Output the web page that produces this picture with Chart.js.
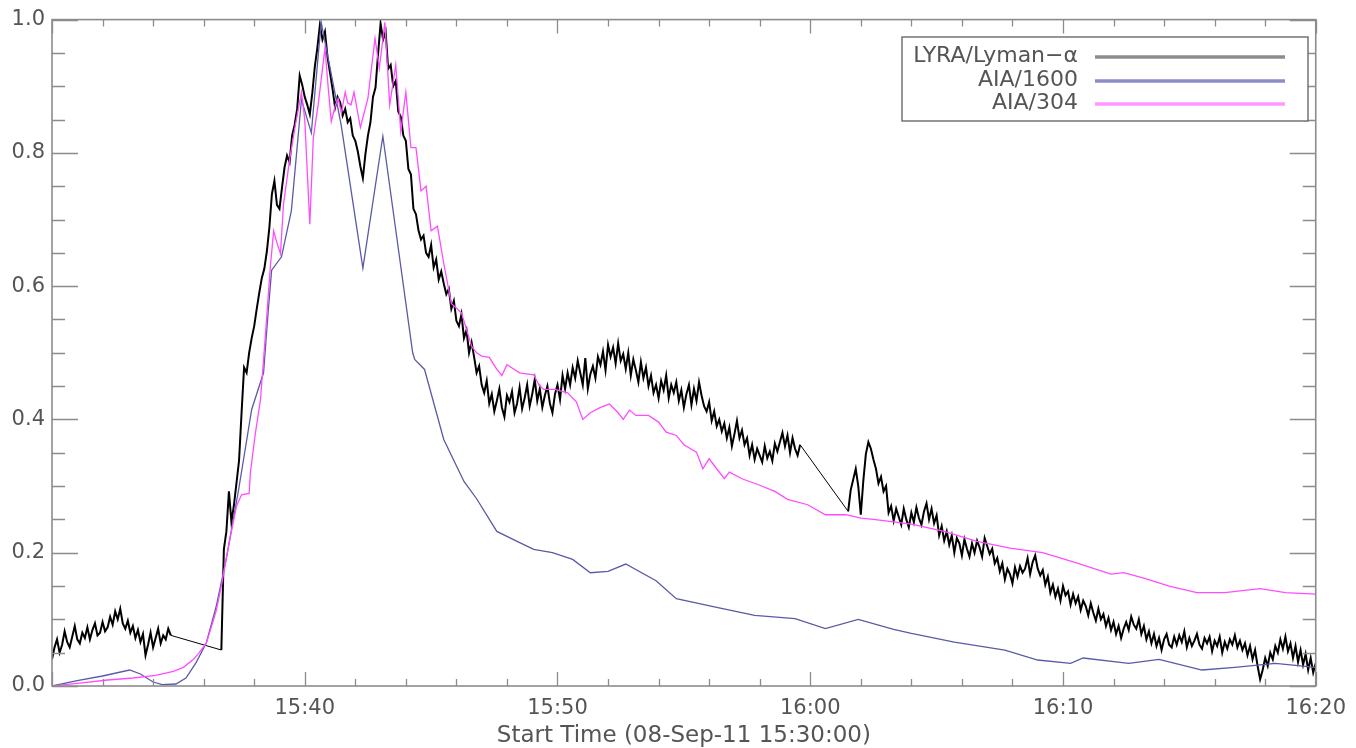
<!DOCTYPE html>
<html><head><meta charset="utf-8">
<script src="https://cdn.jsdelivr.net/npm/chart.js@4"></script>
<style>html,body{margin:0;padding:0;background:#fff;overflow:hidden}canvas{display:block}</style>
</head><body>
<canvas id="c" width="1356" height="748"></canvas>
<script>
// ---- DATA (minutes after 15:30:00 UT, 08-Sep-2011) ----
const xTickMinutes = [10, 20, 30, 40, 50];
const xTickLabels = ['15:40', '15:50', '16:00', '16:10', '16:20'];
const yTickValues = [0, 0.2, 0.4, 0.6, 0.8, 1.0];
const yTickLabels = ['0.0', '0.2', '0.4', '0.6', '0.8', '1.0'];
const seriesNames = ['LYRA/Lyman\u2212\u03b1', 'AIA/1600', 'AIA/304'];
const xAxisTitle = 'Start Time (08-Sep-11 15:30:00)';

// LYRA Lyman-alpha: three data segments at 6 s cadence
const lyraCadence = 0.1;
const lyraSeg1Start = 0.0;
const lyraSeg1 = [0.040,0.058,0.070,0.050,0.062,0.082,0.066,0.058,0.074,0.090,
  0.070,0.064,0.080,0.072,0.088,0.070,0.084,0.094,0.076,0.080,
  0.096,0.082,0.088,0.104,0.092,0.112,0.100,0.116,0.094,0.086,
  0.098,0.080,0.090,0.072,0.084,0.066,0.078,0.046,0.062,0.080,
  0.058,0.072,0.086,0.064,0.076,0.070,0.086,0.076];
const lyraSeg2Start = 6.7;
const lyraSeg2 = [0.054,0.205,0.232,0.292,0.246,0.272,0.305,0.338,0.410,0.478,
  0.470,0.500,0.522,0.540,0.566,0.590,0.612,0.626,0.652,0.688,
  0.738,0.758,0.722,0.716,0.748,0.778,0.796,0.786,0.826,0.842,
  0.866,0.916,0.902,0.884,0.872,0.858,0.890,0.930,0.958,0.992,
  0.970,0.982,0.944,0.920,0.896,0.868,0.884,0.876,0.856,0.866,
  0.846,0.852,0.826,0.818,0.802,0.780,0.762,0.798,0.826,0.846,
  0.884,0.898,0.948,0.994,0.970,0.982,0.926,0.932,0.900,0.908,
  0.862,0.854,0.826,0.818,0.776,0.768,0.716,0.708,0.684,0.670,
  0.676,0.650,0.644,0.662,0.628,0.640,0.610,0.622,0.604,0.588,
  0.596,0.566,0.578,0.548,0.540,0.558,0.522,0.534,0.500,0.516,
  0.494,0.470,0.480,0.452,0.440,0.458,0.424,0.438,0.412,0.428,
  0.446,0.418,0.404,0.436,0.426,0.442,0.410,0.424,0.448,0.416,
  0.432,0.452,0.420,0.438,0.460,0.428,0.446,0.418,0.436,0.450,
  0.424,0.410,0.438,0.452,0.430,0.466,0.446,0.470,0.452,0.478,
  0.462,0.488,0.470,0.452,0.492,0.446,0.468,0.480,0.462,0.494,
  0.482,0.502,0.474,0.512,0.494,0.508,0.484,0.514,0.488,0.498,
  0.476,0.500,0.466,0.490,0.474,0.456,0.486,0.462,0.478,0.450,
  0.466,0.440,0.452,0.432,0.458,0.444,0.466,0.432,0.452,0.440,
  0.456,0.428,0.444,0.418,0.438,0.452,0.422,0.446,0.428,0.456,
  0.436,0.420,0.412,0.426,0.398,0.412,0.390,0.400,0.382,0.394,
  0.372,0.388,0.360,0.378,0.398,0.372,0.384,0.362,0.372,0.346,
  0.362,0.340,0.356,0.346,0.336,0.360,0.342,0.352,0.338,0.364,
  0.352,0.366,0.380,0.360,0.376,0.350,0.372,0.356,0.346,0.362];
const lyraSeg3Start = 31.5;
const lyraSeg3 = [0.262,0.294,0.310,0.326,0.300,0.257,0.308,0.348,0.366,0.356,
  0.340,0.326,0.304,0.314,0.292,0.300,0.260,0.270,0.248,0.266,
  0.254,0.242,0.266,0.250,0.238,0.260,0.246,0.268,0.252,0.242,
  0.262,0.274,0.250,0.266,0.244,0.256,0.226,0.240,0.218,0.232,
  0.212,0.226,0.200,0.222,0.214,0.196,0.220,0.206,0.194,0.214,
  0.200,0.218,0.208,0.194,0.222,0.210,0.198,0.206,0.184,0.192,
  0.172,0.184,0.160,0.176,0.168,0.154,0.178,0.164,0.180,0.170,
  0.176,0.192,0.168,0.186,0.196,0.176,0.166,0.174,0.152,0.164,
  0.140,0.152,0.134,0.146,0.128,0.150,0.136,0.142,0.122,0.138,
  0.124,0.134,0.114,0.128,0.120,0.106,0.124,0.110,0.098,0.116,
  0.100,0.108,0.090,0.102,0.084,0.096,0.078,0.090,0.072,0.086,
  0.096,0.084,0.104,0.092,0.086,0.100,0.078,0.090,0.070,0.082,
  0.064,0.078,0.060,0.072,0.054,0.070,0.078,0.062,0.058,0.074,
  0.062,0.076,0.066,0.082,0.058,0.072,0.060,0.068,0.078,0.062,
  0.056,0.072,0.064,0.074,0.052,0.068,0.060,0.074,0.050,0.066,
  0.056,0.070,0.062,0.076,0.058,0.068,0.054,0.064,0.046,0.060,
  0.040,0.054,0.030,0.010,0.024,0.042,0.030,0.050,0.040,0.060,
  0.050,0.070,0.056,0.074,0.052,0.064,0.042,0.060,0.036,0.054,
  0.032,0.048,0.024,0.042,0.020,0.034];

// AIA 1600
const aia1600Time = [0,1.0,2.0,3.07,3.5,4.0,4.36,4.9,5.3,5.7,6.1,6.5,6.88,7.39,7.9,8.37,8.55,8.69,9.08,9.47,9.87,10.26,10.65,11.44,12.3,13.09,14.27,14.35,14.74,15.5,16.3,16.8,17.6,18.4,19.06,19.8,20.6,21.3,22.0,22.7,23.9,24.7,26.3,27.8,29.4,30.6,31.9,33.3,34.0,35.7,37.7,39.0,40.3,40.8,42.6,43.8,45.5,46.8,48.4,50.0];
const aia1600Value = [0.0,0.008,0.015,0.024,0.018,0.006,0.002,0.003,0.012,0.035,0.064,0.120,0.188,0.296,0.415,0.470,0.560,0.624,0.644,0.713,0.880,0.830,0.996,0.842,0.627,0.825,0.500,0.490,0.475,0.370,0.307,0.281,0.232,0.217,0.205,0.200,0.190,0.170,0.172,0.183,0.158,0.131,0.118,0.106,0.101,0.086,0.100,0.085,0.079,0.066,0.054,0.039,0.034,0.042,0.034,0.040,0.024,0.028,0.034,0.028];

// AIA 304
const aia304Time = [0,1.0,2.2,3.2,4.1,4.8,5.2,5.6,5.8,6.1,6.3,6.5,6.7,6.88,7.1,7.3,7.5,7.8,7.85,8.05,8.25,8.45,8.64,8.77,8.9,9.04,9.16,9.4,9.63,9.87,10.0,10.2,10.34,10.53,10.8,10.93,11.05,11.2,11.32,11.45,11.6,11.7,11.83,11.95,12.2,12.5,12.78,12.95,13.17,13.36,13.6,13.8,14.0,14.2,14.4,14.6,14.8,15.0,15.25,15.5,15.8,16.2,16.6,16.8,17.0,17.3,17.6,17.8,18.0,18.5,19.06,19.26,19.45,19.9,20.4,20.75,21.0,21.3,21.7,22.05,22.4,22.6,22.85,23.1,23.6,24.0,24.3,24.7,25.0,25.5,25.75,26.0,26.3,26.6,26.8,27.3,27.95,28.6,29.1,29.9,30.6,31.4,32.0,32.5,34.0,35.3,36.6,37.9,39.2,40.5,41.9,42.4,43.2,44.2,45.3,46.4,47.8,48.8,50.0];
const aia304Value = [0.0,0.004,0.009,0.012,0.016,0.022,0.028,0.040,0.049,0.064,0.088,0.113,0.150,0.188,0.232,0.270,0.287,0.289,0.321,0.380,0.430,0.530,0.630,0.683,0.665,0.649,0.723,0.790,0.842,0.891,0.850,0.693,0.823,0.872,0.957,0.897,0.847,0.870,0.882,0.860,0.891,0.875,0.872,0.891,0.838,0.882,0.972,0.927,0.996,0.872,0.932,0.832,0.891,0.808,0.808,0.743,0.750,0.683,0.690,0.634,0.574,0.560,0.510,0.500,0.495,0.493,0.475,0.466,0.482,0.470,0.467,0.452,0.445,0.445,0.440,0.426,0.400,0.410,0.418,0.423,0.410,0.400,0.414,0.406,0.406,0.396,0.381,0.376,0.362,0.351,0.326,0.341,0.326,0.311,0.321,0.311,0.302,0.292,0.280,0.272,0.257,0.257,0.252,0.250,0.243,0.232,0.217,0.207,0.200,0.185,0.168,0.170,0.162,0.150,0.140,0.140,0.146,0.140,0.138];

// ---- build datasets ----
function segPoints(start, vals) { return vals.map((v, i) => ({ x: +(start + i * lyraCadence).toFixed(2), y: v })); }
const lyraPoints = [].concat(segPoints(lyraSeg1Start, lyraSeg1), segPoints(lyraSeg2Start, lyraSeg2), segPoints(lyraSeg3Start, lyraSeg3));
const aia1600Points = aia1600Time.map((t, i) => ({ x: t, y: aia1600Value[i] }));
const aia304Points = aia304Time.map((t, i) => ({ x: t, y: aia304Value[i] }));

const FONT = 'DejaVu Sans';
const TXT = '#555555';
const AXIS = '#8c8c8c';
const lineColors = ['#000000', '#5a5aa8', '#ff4cff'];
const legendColors = ['#8c8c8c', '#8c8cc8', '#ff99ff'];

const framePlugin = {
  id: 'frame',
  afterDatasetsDraw(chart) {
    const { ctx, chartArea: a, scales: { x, y } } = chart;
    ctx.save();
    ctx.strokeStyle = AXIS;
    ctx.lineWidth = 1.6;
    ctx.strokeRect(a.left, a.top, a.right - a.left, a.bottom - a.top);
    ctx.lineWidth = 1.3;
    ctx.beginPath();
    for (let m = 0; m <= 50; m += 2) {
      const px = Math.round(x.getPixelForValue(m)) + 0.5;
      const L = m % 10 === 0 ? 14 : 7;
      ctx.moveTo(px, a.bottom); ctx.lineTo(px, a.bottom - L);
      ctx.moveTo(px, a.top); ctx.lineTo(px, a.top + L);
    }
    for (let k = 0; k <= 20; k++) {
      const py = Math.round(y.getPixelForValue(k * 0.05)) + 0.5;
      const L = k % 4 === 0 ? 26 : 13;
      ctx.moveTo(a.left, py); ctx.lineTo(a.left + L, py);
      ctx.moveTo(a.right, py); ctx.lineTo(a.right - L, py);
    }
    ctx.stroke();
    ctx.restore();
  }
};

const legendPlugin = {
  id: 'boxLegend',
  afterDraw(chart) {
    const ctx = chart.ctx;
    ctx.save();
    ctx.fillStyle = '#ffffff';
    ctx.fillRect(902, 37, 406, 84);
    ctx.strokeStyle = '#6a6a6a';
    ctx.lineWidth = 1.4;
    ctx.strokeRect(902, 37, 406, 84);
    ctx.font = '22px "' + FONT + '"';
    ctx.textAlign = 'right';
    ctx.textBaseline = 'middle';
    const rows = [56, 80, 103];
    seriesNames.forEach((n, i) => {
      ctx.fillStyle = TXT;
      ctx.fillText(n, 1078, rows[i]);
      ctx.strokeStyle = legendColors[i];
      ctx.lineWidth = 3.5;
      ctx.beginPath(); ctx.moveTo(1095, rows[i] + 1); ctx.lineTo(1285, rows[i] + 1); ctx.stroke();
    });
    ctx.restore();
  }
};

new Chart(document.getElementById('c'), {
  type: 'line',
  data: {
    datasets: [
      { label: seriesNames[0], data: lyraPoints, borderColor: lineColors[0], borderWidth: 2, pointRadius: 0, tension: 0, order: 3,
        segment: { borderWidth: c => (c.p1.parsed.x - c.p0.parsed.x > 0.5 ? 1 : 2) } },
      { label: seriesNames[1], data: aia1600Points, borderColor: lineColors[1], borderWidth: 1.3, pointRadius: 0, tension: 0, order: 2 },
      { label: seriesNames[2], data: aia304Points, borderColor: lineColors[2], borderWidth: 1.3, pointRadius: 0, tension: 0, order: 1 }
    ]
  },
  options: {
    responsive: false,
    animation: false,
    devicePixelRatio: 1,
    layout: { padding: { top: 14, right: 32, left: 0, bottom: 0 } },
    plugins: { legend: { display: false }, tooltip: { enabled: false } },
    scales: {
      x: {
        type: 'linear', min: 0, max: 50,
        grid: { display: false, drawTicks: false },
        border: { display: false },
        afterBuildTicks: s => { s.ticks = xTickMinutes.map(v => ({ value: v })); },
        ticks: {
          autoSkip: false, maxRotation: 0, padding: 10, color: TXT,
          font: { family: FONT, size: 21 },
          callback: v => { const i = xTickMinutes.indexOf(v); return i >= 0 ? xTickLabels[i] : ''; }
        },
        title: { display: true, text: xAxisTitle, color: TXT, font: { family: FONT, size: 23 }, padding: { top: 0, bottom: -2 } },
        afterFit: s => { s.height = 62; }
      },
      y: {
        min: 0, max: 1,
        grid: { display: false, drawTicks: false },
        border: { display: false },
        afterBuildTicks: s => { s.ticks = yTickValues.map(v => ({ value: v })); },
        ticks: {
          padding: 7, color: TXT, font: { family: FONT, size: 21 },
          callback: v => { const i = yTickValues.findIndex(t => Math.abs(t - v) < 1e-9); return i >= 0 ? yTickLabels[i] : ''; }
        },
        afterFit: s => { s.width = 52; }
      }
    }
  },
  plugins: [framePlugin, legendPlugin]
});
</script>
</body></html>
